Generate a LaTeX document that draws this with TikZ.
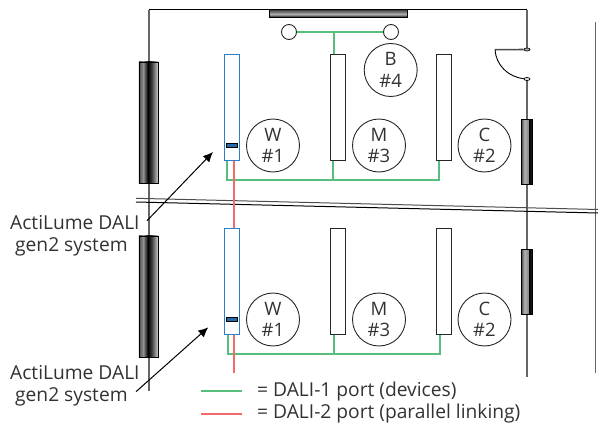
\documentclass[tikz,border=0pt]{standalone}
\usepackage{fontspec}
\setmainfont{Open Sans}
\usetikzlibrary{arrows.meta,shapes.geometric}
\definecolor{daligreen}{RGB}{88,190,125}
\definecolor{dalired}{RGB}{245,105,105}
\definecolor{lumeblue}{RGB}{45,125,200}
\definecolor{inktext}{RGB}{50,50,50}
\pgfdeclarehorizontalshading{leftglass}{100bp}{color(0bp)=(black!70); color(25bp)=(black!70); color(36bp)=(black!42); color(48bp)=(black); color(58bp)=(black!75); color(75bp)=(black!15); color(100bp)=(black!15)}
\pgfdeclarehorizontalshading{rightglass}{100bp}{color(0bp)=(black!70); color(25bp)=(black!70); color(38bp)=(black!30); color(55bp)=(black!45); color(58bp)=(black); color(70bp)=(black!90); color(75bp)=(black!60); color(100bp)=(black!60)}
\pgfdeclareverticalshading{topglass}{100bp}{color(0bp)=(black!95); color(25bp)=(black!95); color(45bp)=(black!30); color(75bp)=(black!75); color(100bp)=(black!75)}
\tikzset{
  wall/.style={draw=black!60, line width=1.2pt},
  luminaire/.style={draw=black!85, fill=white, line width=1pt, minimum width=15pt, minimum height=106pt, inner sep=0pt},
  actilume/.style={luminaire, draw=lumeblue, line width=1.1pt},
  sensor/.style={circle, draw=black!85, line width=0.9pt, minimum size=53pt, inner sep=0pt, align=center, text=inktext, font=\fontsize{18.5}{21.5}\selectfont},
  lamp/.style={circle, draw=black!85, fill=white, line width=0.9pt, minimum size=15pt, inner sep=0pt},
  marker/.style={draw=black, fill=lumeblue!85!black, line width=0.7pt, minimum width=11pt, minimum height=4.5pt, inner sep=0pt},
  jamb/.style={ellipse, draw=black, line width=0.7pt, minimum width=6pt, minimum height=3pt, inner sep=0pt},
  devline/.style={draw=daligreen, line width=1.6pt},
  linkline/.style={draw=dalired, line width=1.6pt},
  labeltext/.style={text=inktext, font=\fontsize{19.2}{22}\selectfont, align=left, inner sep=0pt},
  winleft/.style={draw=black, line width=0.9pt, inner sep=0pt, minimum width=19.5pt, minimum height=121.5pt, shading=leftglass},
  winright/.style={draw=black, line width=0.9pt, inner sep=0pt, minimum width=11pt, minimum height=65pt, shading=rightglass},
  pointer/.style={-{Latex[length=10pt,width=9pt]}, line width=1pt},
}
\begin{document}
\begin{tikzpicture}[x=1pt,y=-1pt]
  \useasboundingbox (0,0) rectangle (598,423);
  % walls
  \draw[wall] (149,391) -- (149,9.5);
  \draw[black, line width=1.1pt] (149,9.5) -- (527,9.5);
  \draw[wall] (527,9.5) -- (527,49.5);
  \draw[wall] (527,79) -- (527,377);
  \draw[wall] (595.5,22) -- (595.5,373);
  % floor break
  \draw[black!70, line width=1pt] (136,198.3) -- (598,209.5);
  \draw[black, line width=1pt] (136,202) -- (598,213);
  % windows
  \node[winleft] (winA) at (148.7,122.7) {};
  \node[winleft] (winB) at (148.7,296.7) {};
  \node[winright] (winC) at (527,151.5) {};
  \node[winright] (winD) at (527,281.5) {};
  \node[draw=black, line width=1pt, inner sep=0pt, minimum width=138pt, minimum height=7.5pt, shading=topglass] (blind) at (338,13.5) {};
  % door
  \node[jamb, fill=black!30] (jambA) at (527,49.5) {};
  \node[jamb, fill=black!10] (jambB) at (527,79) {};
  \coordinate (leaf) at (495,49.7);
  \draw[black!70, line width=1.6pt] (leaf) -- (jambA);
  \draw[black, line width=0.9pt] (leaf) .. controls (496,65) and (508,77) .. (jambB);
  % upper floor
  \node[actilume] (lumW) at (232.2,107.5) {};
  \node[luminaire] (lumM) at (338,107.5) {};
  \node[luminaire] (lumC) at (444,107.5) {};
  \node[marker] (markW) at (232.2,145.3) {};
  \node[sensor] (senW) at (273,145.5) {W\\\#1};
  \node[sensor] (senM) at (379,145.5) {M\\\#3};
  \node[sensor] (senC) at (484.5,145.5) {C\\\#2};
  \node[sensor] (senB) at (390.7,70) {B\\\#4};
  \node[lamp] (lampL) at (289,32) {};
  \node[lamp] (lampR) at (391,32) {};
  \draw[devline] (lampL) -- (lampR);
  \draw[devline] (334,32) -- (lumM.north -| 334,0);
  \draw[devline] (lumW.south -| 227,0) |- (439,179.7) -- (lumC.south -| 439,0);
  \draw[devline] (lumM.south -| 333,0) -- (333,179.7);
  % lower floor
  \node[actilume] (lumWb) at (232.2,281.5) {};
  \node[luminaire] (lumMb) at (338,281.5) {};
  \node[luminaire] (lumCb) at (444,281.5) {};
  \node[marker] (markWb) at (232.2,319.3) {};
  \node[sensor] (senWb) at (273,319.5) {W\\\#1};
  \node[sensor] (senMb) at (379,319.5) {M\\\#3};
  \node[sensor] (senCb) at (484.5,319.5) {C\\\#2};
  \draw[devline] (lumWb.south -| 228,0) |- (440,353.7) -- (lumCb.south -| 440,0);
  \draw[devline] (lumMb.south -| 334,0) -- (334,353.7);
  % parallel link
  \coordinate (linkend) at (234,372.7);
  \draw[linkline] (lumW.south -| 234,0) -- (lumWb.north -| 234,0);
  \draw[linkline] (lumWb.south -| 234,0) -- (linkend);
  % labels
  \node[labeltext, anchor=west] (sysA) at (10,236) {ActiLume DALI\\\hspace*{5pt}gen2 system};
  \node[labeltext, anchor=west] (sysB) at (10,386) {ActiLume DALI\\\hspace*{5pt}gen2 system};
  \coordinate (tailA) at (147,220.7);
  \coordinate (tailB) at (136,391.7);
  \coordinate (tipA) at (213,152);
  \coordinate (tipB) at (208.3,327.3);
  \draw[pointer] (tailA) -- (tipA);
  \draw[pointer] (tailB) -- (tipB);
  % legend
  \coordinate (keyA) at (201,391);
  \coordinate (keyB) at (201,414);
  \draw[devline] (keyA) -- ++(40.5,0);
  \draw[linkline] (keyB) -- ++(40.5,0);
  \node[labeltext, anchor=base west] (txtA) at (257,396.5) {= DALI-1 port (devices)};
  \node[labeltext, anchor=base west] (txtB) at (257,418) {= DALI-2 port (parallel linking)};
\end{tikzpicture}
\end{document}
